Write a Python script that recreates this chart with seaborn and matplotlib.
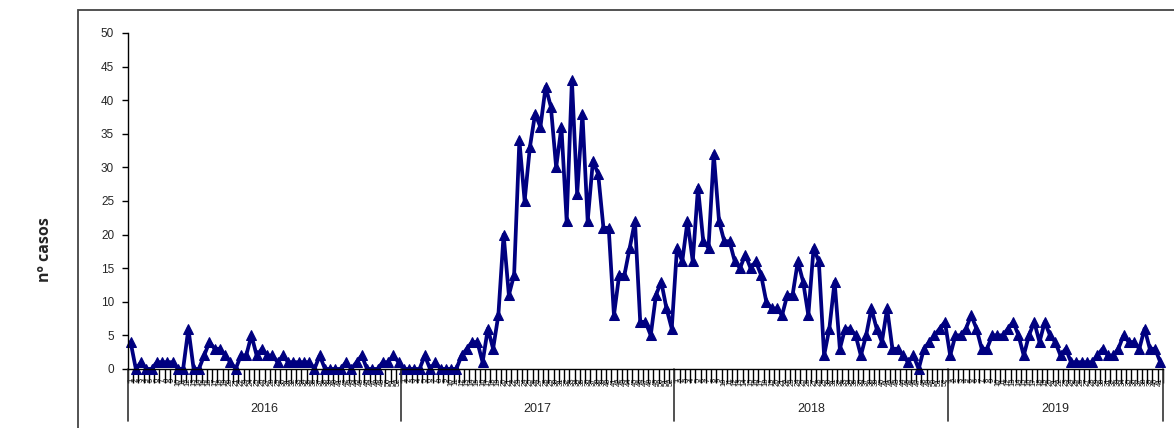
import numpy as np
import pandas as pd
import seaborn as sns
import matplotlib.pyplot as plt
from matplotlib.patches import Rectangle
from matplotlib.transforms import blended_transform_factory

# weekly number of cases
years = ['2016', '2017', '2018', '2019']

cases_2016 = [4, 0, 1, 0, 0, 1, 1, 1, 1, 0,
              0, 6, 0, 0, 2, 4, 3, 3, 2, 1,
              0, 2, 2, 5, 2, 3, 2, 2, 1, 2,
              1, 1, 1, 1, 1, 0, 2, 0, 0, 0,
              0, 1, 0, 1, 2, 0, 0, 0, 1, 1,
              2, 1]
cases_2017 = [0, 0, 0, 0, 2, 0, 1, 0, 0, 0,
              0, 2, 3, 4, 4, 1, 6, 3, 8, 20,
              11, 14, 34, 25, 33, 38, 36, 42, 39, 30,
              36, 22, 43, 26, 38, 22, 31, 29, 21, 21,
              8, 14, 14, 18, 22, 7, 7, 5, 11, 13,
              9, 6]
cases_2018 = [18, 16, 22, 16, 27, 19, 18, 32, 22, 19,
              19, 16, 15, 17, 15, 16, 14, 10, 9, 9,
              8, 11, 11, 16, 13, 8, 18, 16, 2, 6,
              13, 3, 6, 6, 5, 2, 5, 9, 6, 4,
              9, 3, 3, 2, 1, 2, 0, 3, 4, 5,
              6, 7]
cases_2019 = [2, 5, 5, 6, 8, 6, 3, 3, 5, 5,
              5, 6, 7, 5, 2, 5, 7, 4, 7, 5,
              4, 2, 3, 1, 1, 1, 1, 1, 2, 3,
              2, 2, 3, 5, 4, 4, 3, 6, 3, 3,
              1]

# build one long table: year, week number, cases
all_cases = [cases_2016, cases_2017, cases_2018, cases_2019]
rows = []
for yr, vals in zip(years, all_cases):
    for wk, v in enumerate(vals, start=1):
        rows.append((yr, wk, v))
df = pd.DataFrame(rows, columns=['ano', 'semana', 'casos'])
df['pos'] = np.arange(len(df))
n = len(df)

sns.set_style('ticks')
plt.rcParams['font.family'] = ['Liberation Sans', 'DejaVu Sans']

fig = plt.figure(figsize=(11.74, 4.28), dpi=100)

# outer frame of the original figure box
fig.patches.append(Rectangle((0.0664, -0.05), 1.0, 1.027, transform=fig.transFigure,
                             fill=False, edgecolor='#444444', linewidth=1.3))

ax = fig.add_axes([0.109, 0.138, 0.8816, 0.785])

navy = '#000080'
sns.lineplot(data=df, x='pos', y='casos', color=navy, linewidth=2.7,
             marker='^', markersize=7, markeredgecolor=navy, markerfacecolor=navy,
             ax=ax, clip_on=False)

# y axis
ax.set_ylim(0, 50)
ax.set_yticks(range(0, 51, 5))
ax.tick_params(axis='y', labelsize=8.5, length=4, width=1, pad=6, color='black')
ax.set_ylabel('')

# x axis: week tick marks between categories, week numbers as tiny labels
ax.set_xlim(-0.5, n - 0.5)
ax.set_xticks(np.arange(n + 1) - 0.5)
ax.set_xticklabels([])
ax.tick_params(axis='x', which='major', length=10, width=1, color='black')
ax.set_xticks(df['pos'], minor=True)
ax.set_xticklabels(df['semana'].astype(str), minor=True, rotation=90, fontsize=5.5)
ax.tick_params(axis='x', which='minor', length=0, pad=6, labelcolor='black')
ax.set_xlabel('')

sns.despine(ax=ax, top=True, right=True)
for sp in ['left', 'bottom']:
    ax.spines[sp].set_color('black')
    ax.spines[sp].set_linewidth(1)

# year groups below the week labels
trans = blended_transform_factory(ax.transData, ax.transAxes)
start = 0
bounds = [-0.5]
for yr, vals in zip(years, all_cases):
    end = start + len(vals)
    ax.text((start + end - 1) / 2, -0.118, yr, transform=trans,
            ha='center', va='center', fontsize=9)
    bounds.append(end - 0.5)
    start = end
for b in bounds:
    ax.plot([b, b], [0, -0.155], transform=trans, color='#333333',
            linewidth=1.2, clip_on=False)

fig.text(0.038, 0.416, 'nº casos', rotation=90, ha='center', va='center',
         fontsize=11.5, fontweight='bold', family=['Open Sans', 'DejaVu Sans'])

fig.savefig('out.png', dpi=100)
